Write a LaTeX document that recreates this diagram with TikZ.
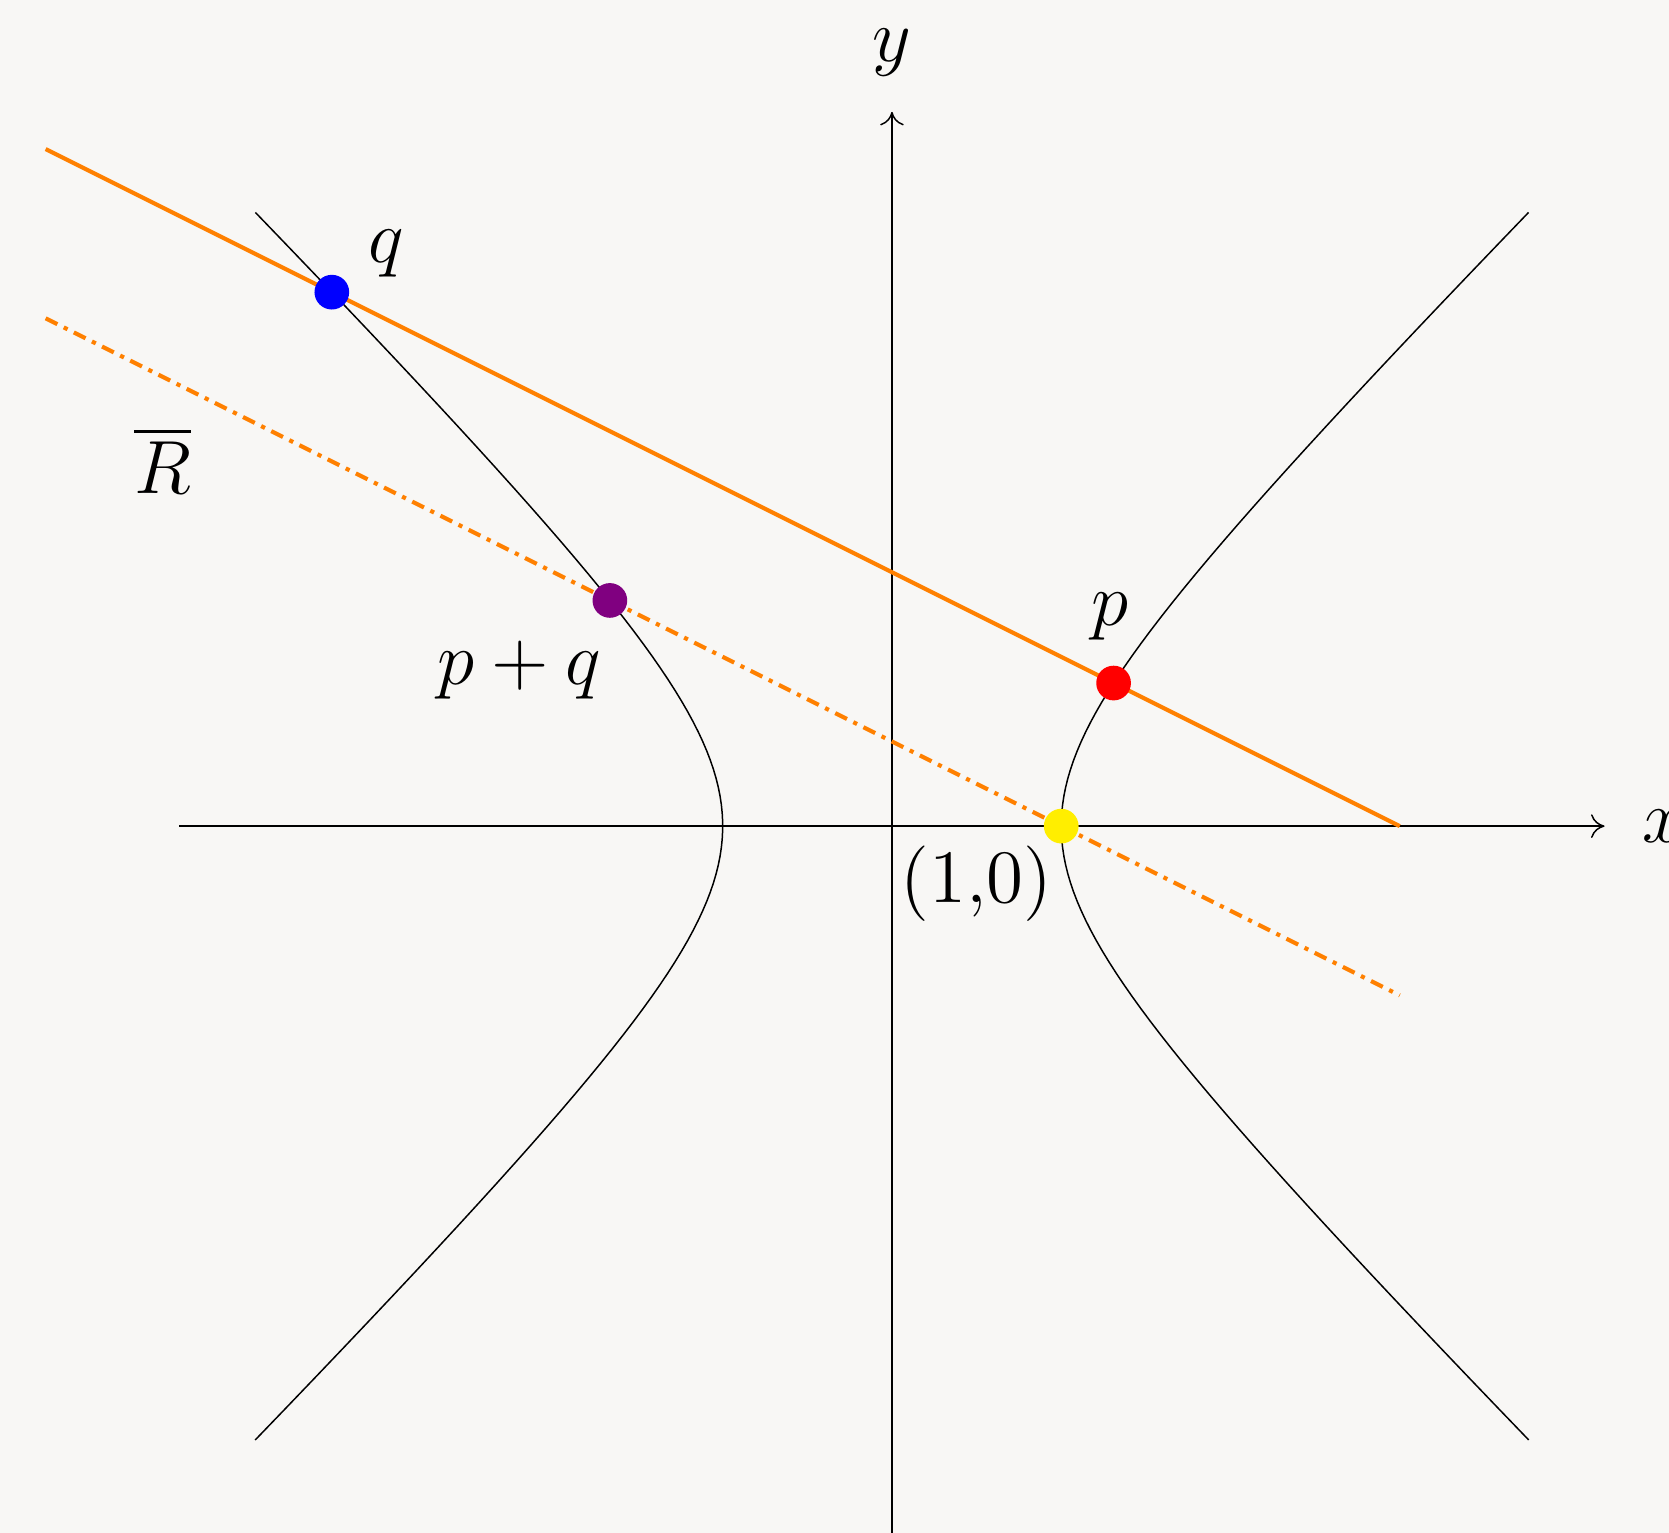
\documentclass[tikz,border=0pt]{standalone}
\usepackage{amsmath, amssymb}
\usepackage{xcolor}
\usepackage{tikz}
\usetikzlibrary{arrows.meta, positioning, calc}
\definecolor{paperbg}{RGB}{248, 247, 245}
\definecolor{lineorange}{RGB}{255, 128, 0}
\definecolor{dotyellow}{RGB}{255, 238, 0}
\definecolor{dotpurple}{RGB}{128, 0, 128}

\begin{document}
\begin{tikzpicture}[
  every node/.style={font=\fontsize{14.4}{17}\selectfont},
  axis/.style={draw=black, line width=0.25pt, -{To[length=0.8mm, width=1.4mm]}},
  curve/.style={draw=black, line width=0.25pt},
  chord/.style={draw=lineorange, line width=0.7pt},
  parallel/.style={draw=lineorange, line width=0.7pt,
    dash pattern=on 2.2pt off 1.2pt on 0.7pt off 1.2pt},
  pt/.style={circle, minimum size=2.05mm, inner sep=0pt},
  lbl/.style={inner sep=1pt, scale=0.88}
]

  % Sfondo e cornice
  \useasboundingbox[fill=paperbg] (-5.27,-4.176) rectangle (4.591,4.881);

  % Assi
  \coordinate (xmin) at (-4.21,0);
  \coordinate (xmax) at (4.21,0);
  \coordinate (ymin) at (0,-4.4);
  \coordinate (ymax) at (0,4.22);
  \draw[axis] (xmin) -- (xmax);
  \draw[axis] (ymin) -- (ymax);
  \node[lbl] (xlab) at (4.56,0) {$x$};
  \node[lbl] (ylab) at (0,4.57) {$y$};

  % Iperbole x^2 - y^2 = 1
  \draw[curve] plot[domain=-2:2, samples=80, variable=\t] ({cosh(\t)}, {sinh(\t)});
  \draw[curve] plot[domain=-2:2, samples=80, variable=\t] ({-cosh(\t)}, {sinh(\t)});

  % Punti
  \coordinate (q) at (-3.3094,3.1547);
  \coordinate (p) at (1.3094,0.8453);
  \coordinate (pq) at (-1.6667,1.3333);
  \coordinate (e) at (1,0);

  % Retta per p e q, e parallela per (1,0)
  \coordinate (chordA) at (-5,4);
  \coordinate (chordB) at (3,0);
  \coordinate (parA) at (-5,3);
  \coordinate (parB) at (3,-1);
  \draw[chord] (chordA) -- (chordB);
  \draw[parallel] (parA) -- (parB);

  \node[pt, fill=blue] (qdot) at (q) {};
  \node[pt, fill=red] (pdot) at (p) {};
  \node[pt, fill=dotpurple] (pqdot) at (pq) {};
  \node[pt, fill=dotyellow] (edot) at (e) {};

  % Etichette
  \node[lbl] (qlab) at (-2.99,3.38) {$q$};
  \node[lbl] (plab) at (1.29,1.24) {$p$};
  \node[lbl] (pqlab) at (-2.2,0.92) {$p + q$};
  \node[lbl] (elab) at (0.5,-0.34) {$(1{,}0)$};
  \node[lbl] (rlab) at (-4.31,2.16) {$\overline{R}$};

\end{tikzpicture}
\end{document}
